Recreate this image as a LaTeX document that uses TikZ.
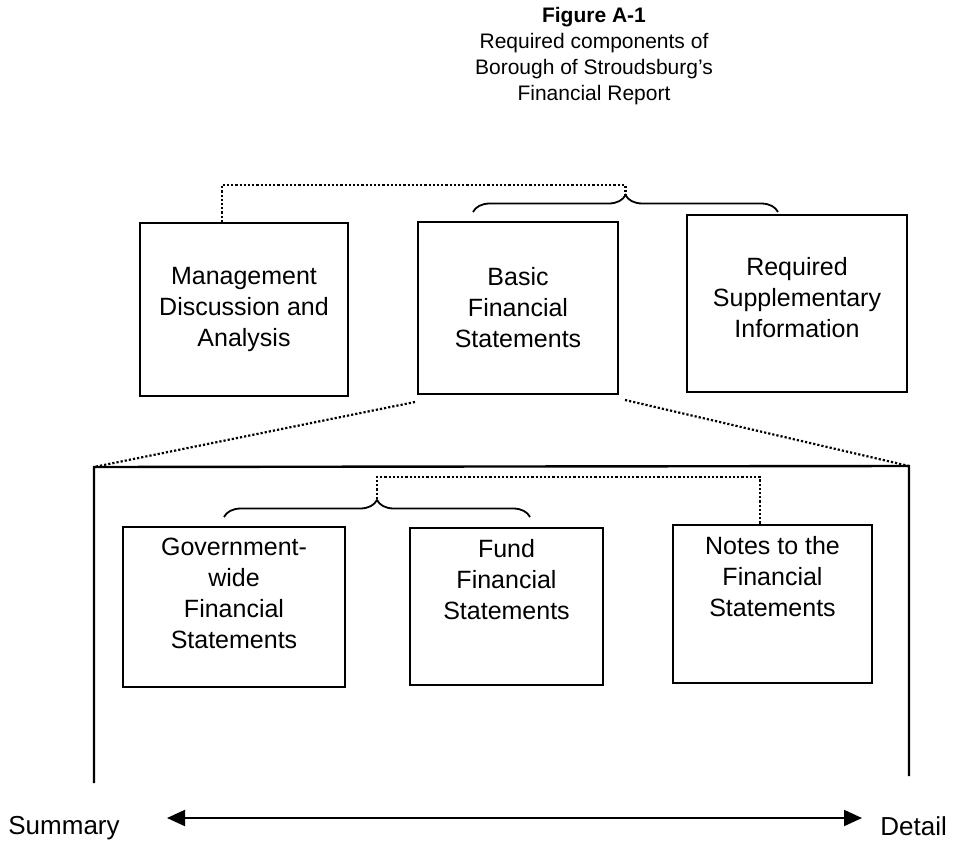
\documentclass[tikz,border=0pt]{standalone}
\usepackage{fontspec}
\setmainfont{Liberation Sans}
\usetikzlibrary{calc,arrows.meta,
                 decorations.pathreplacing}

\begin{document}
\begin{tikzpicture}[x=0.5pt,y=-0.5pt]
 \tikzstyle{box}=[draw,line width=1pt,align=center,inner sep=0pt,
 font=\fontsize{12.5}{15.5}\selectfont]
 \tikzstyle{boxtext}=[align=center,inner sep=0pt,font=\fontsize{12.5}{15.5}\selectfont]
 \tikzstyle{dotline}=[line width=1.1pt,densely dotted]
 \tikzstyle{curly}=[line width=0.9pt,decorate,decoration={brace,amplitude=8.5pt}]
 \tikzstyle{bigframe}=[line width=1.2pt]
 \tikzstyle{spanarrow}=[line width=1pt,{Triangle[length=9pt,width=8pt]}-{Triangle[length=9pt,width=8pt]}]
\useasboundingbox (0,0) rectangle (955,841);
\node[align=center,inner sep=0pt,font=\fontsize{10.5}{13}\selectfont] (title) at (594,56)
 {\textbf{Figure A-1}\\Required components of\\Borough of Stroudsburg's\\Financial Report};
\node[box,minimum width=104pt,minimum height=86.5pt] (mda) at (244,309.5) {Management\\Discussion and\\Analysis};
\node[box,minimum width=100pt,minimum height=86pt] (bfs) at (518,308) {Basic\\Financial\\Statements};
\node[box,minimum width=110pt,minimum height=88.5pt,
 label={[boxtext,yshift=3pt]center:Required\\Supplementary\\Information}] (rsi) at (797,303.5) {};
\node[box,minimum width=111pt,minimum height=80pt,
 label={[boxtext,anchor=north,yshift=-6pt]north:Government-\\wide\\Financial\\Statements}] (gov) at (234,607) {};
\node[box,minimum width=96.5pt,minimum height=78.5pt,
 label={[boxtext,anchor=north,yshift=-6pt]north:Fund\\Financial\\Statements}] (fund) at (506.5,606.5) {};
\node[box,minimum width=99.5pt,minimum height=79pt,
 label={[boxtext,anchor=north,yshift=-6pt]north:Notes to the\\Financial\\Statements}] (notes) at (772.5,604) {};
\coordinate (toptip) at (625.5,195);
\coordinate (lowtip) at (377,499);
\draw[curly] (473,212) -- (778,212);
\draw[curly] (224,517) -- (530,517);
\draw[dotline] ($(mda.north west)+(83,0)$) -- ++(0,-37) -| (toptip);
\draw[dotline] (lowtip) -- ++(0,-22) -| ($(notes.north west)+(88,0)$);
\coordinate (bigL) at (94,467);
\coordinate (bigR) at (909,466);
\coordinate (botL) at (94,783);
\coordinate (botR) at (909,776);
\draw[dotline] ($(bfs.south west)+(-2,7)$) -- (bigL);
\draw[dotline] ($(bfs.south east)+(6,5)$) -- (bigR);
\draw[bigframe] (botL) -- (bigL) -- (bigR) -- (botR);
\node[anchor=west,inner sep=0pt,font=\fontsize{13}{15}\selectfont] (summary) at (8,828) {Summary};
\node[anchor=west,inner sep=0pt,font=\fontsize{13}{15}\selectfont] (detail) at (880,826) {Detail};
\coordinate (arrL) at (167,818);
\coordinate (arrR) at (862,818);
\draw[spanarrow] (arrL) -- (arrR);
\end{tikzpicture}
\end{document}
